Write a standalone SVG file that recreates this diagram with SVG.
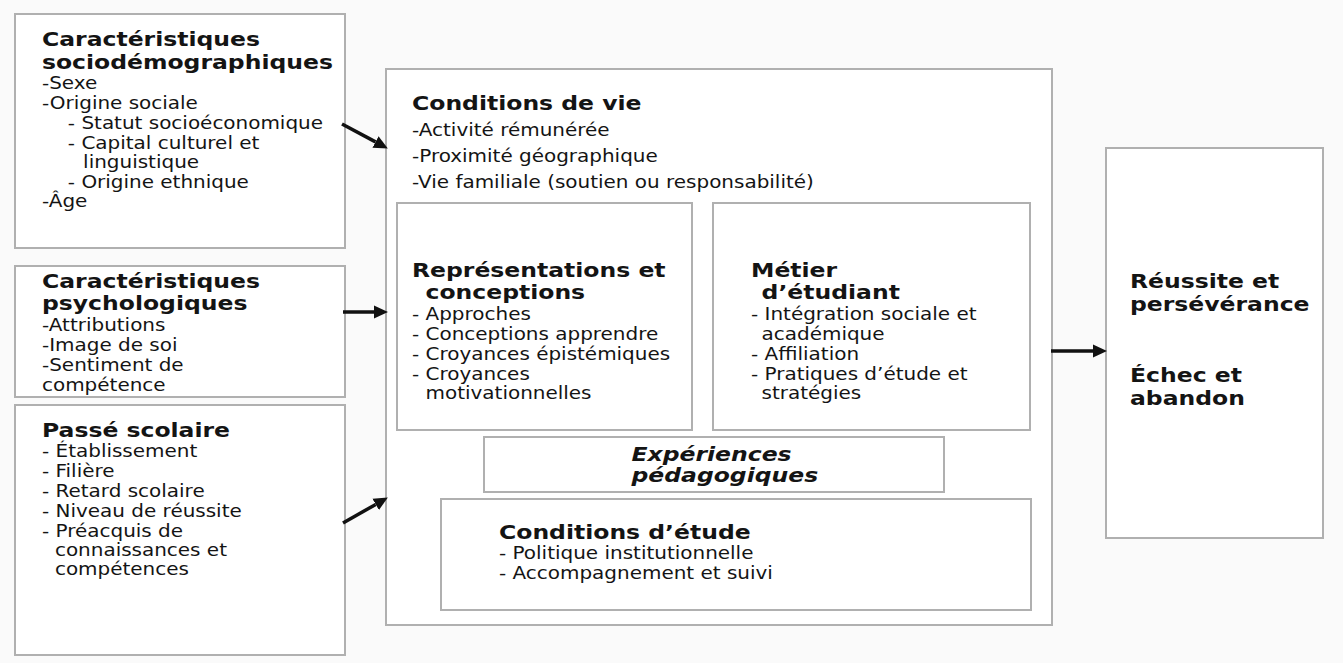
<svg xmlns="http://www.w3.org/2000/svg" width="1343" height="663" viewBox="0 0 1343 663">
<defs>
<style>
.box{fill:#ffffff;stroke:#b0b0b0;stroke-width:2}
text{font-family:"DejaVu Sans","Verdana",sans-serif;fill:#141414}
.t{font-size:20px;font-weight:bold}
.b{font-size:17px}
.bi{font-size:20px;font-weight:bold;font-style:italic}
.arr{stroke:#111;stroke-width:3.5;fill:none}
</style>
<marker id="ah" markerUnits="userSpaceOnUse" markerWidth="16" markerHeight="14" refX="0" refY="6.5" orient="auto" viewBox="0 0 16 13">
<path d="M0,0 L14,6.5 L0,13 z" fill="#111"/>
</marker>
</defs>
<rect x="0" y="0" width="1343" height="663" fill="#fafafa"/>

<g id="socio">
<rect class="box" x="15" y="14" width="330" height="234"/>
<g transform="translate(42 0) scale(1.175 1)">
<text class="t" x="0" y="46.5">Caractéristiques</text>
<text class="t" x="0" y="69">sociodémographiques</text>
<text class="b" x="0" y="89">-Sexe</text>
<text class="b" x="0" y="109">-Origine sociale</text>
<text class="b" x="22" y="129">- Statut socioéconomique</text>
<text class="b" x="22" y="149">- Capital culturel et</text>
<text class="b" x="35" y="168">linguistique</text>
<text class="b" x="22" y="188">- Origine ethnique</text>
<text class="b" x="0" y="207">-Âge</text>
</g>
</g>

<g id="psycho">
<rect class="box" x="15" y="266" width="330" height="131"/>
<g transform="translate(42 0) scale(1.175 1)">
<text class="t" x="0" y="288">Caractéristiques</text>
<text class="t" x="0" y="310">psychologiques</text>
<text class="b" x="0" y="331">-Attributions</text>
<text class="b" x="0" y="351">-Image de soi</text>
<text class="b" x="0" y="371">-Sentiment de</text>
<text class="b" x="0" y="391">compétence</text>
</g>
</g>

<g id="passe">
<rect class="box" x="15" y="405" width="330" height="250"/>
<g transform="translate(42 0) scale(1.175 1)">
<text class="t" x="0" y="437">Passé scolaire</text>
<text class="b" x="0" y="457">- Établissement</text>
<text class="b" x="0" y="477">- Filière</text>
<text class="b" x="0" y="497">- Retard scolaire</text>
<text class="b" x="0" y="517">- Niveau de réussite</text>
<text class="b" x="0" y="537">- Préacquis de</text>
<text class="b" x="11" y="556">connaissances et</text>
<text class="b" x="11" y="575">compétences</text>
</g>
</g>

<g id="conditions-vie">
<rect class="box" x="386" y="69" width="666" height="556"/>
<g transform="translate(412 0) scale(1.175 1)">
<text class="t" x="0" y="110">Conditions de vie</text>
<text class="b" x="0" y="136">-Activité rémunérée</text>
<text class="b" x="0" y="162">-Proximité géographique</text>
<text class="b" x="0" y="188">-Vie familiale (soutien ou responsabilité)</text>
</g>
</g>

<g id="representations">
<rect class="box" x="397" y="203" width="295" height="227"/>
<g transform="translate(412 0) scale(1.175 1)">
<text class="t" x="0" y="277">Représentations et</text>
<text class="t" x="11.5" y="299">conceptions</text>
<text class="b" x="0" y="320">- Approches</text>
<text class="b" x="0" y="340">- Conceptions apprendre</text>
<text class="b" x="0" y="360">- Croyances épistémiques</text>
<text class="b" x="0" y="380">- Croyances</text>
<text class="b" x="11.5" y="399">motivationnelles</text>
</g>
</g>

<g id="metier">
<rect class="box" x="713" y="203" width="317" height="227"/>
<g transform="translate(751 0) scale(1.175 1)">
<text class="t" x="0" y="277">Métier</text>
<text class="t" x="9" y="299">d’étudiant</text>
<text class="b" x="0" y="320">- Intégration sociale et</text>
<text class="b" x="9" y="340">académique</text>
<text class="b" x="0" y="360">- Affiliation</text>
<text class="b" x="0" y="380">- Pratiques d’étude et</text>
<text class="b" x="9" y="399">stratégies</text>
</g>
</g>

<g id="experiences">
<rect class="box" x="484" y="437" width="460" height="55"/>
<g transform="translate(631.5 0) scale(1.175 1)">
<text class="bi" x="0" y="461">Expériences</text>
<text class="bi" x="0" y="482">pédagogiques</text>
</g>
</g>

<g id="conditions-etude">
<rect class="box" x="441" y="499" width="590" height="111"/>
<g transform="translate(499 0) scale(1.175 1)">
<text class="t" x="0" y="539">Conditions d’étude</text>
<text class="b" x="0" y="559">- Politique institutionnelle</text>
<text class="b" x="0" y="579">- Accompagnement et suivi</text>
</g>
</g>

<g id="resultat">
<rect class="box" x="1106" y="148" width="217" height="390"/>
<g transform="translate(1130 0) scale(1.175 1)">
<text class="t" x="0" y="288">Réussite et</text>
<text class="t" x="0" y="311">persévérance</text>
<text class="t" x="0" y="382">Échec et</text>
<text class="t" x="0" y="405">abandon</text>
</g>
</g>

<g id="connectors">
<path class="arr" d="M342,124 L375.5,141.9" marker-end="url(#ah)"/>
<path class="arr" d="M343,312 L374,312" marker-end="url(#ah)"/>
<path class="arr" d="M343,523 L375.7,504.4" marker-end="url(#ah)"/>
<path class="arr" d="M1051,351 L1093,351" marker-end="url(#ah)"/>
</g>
</svg>
